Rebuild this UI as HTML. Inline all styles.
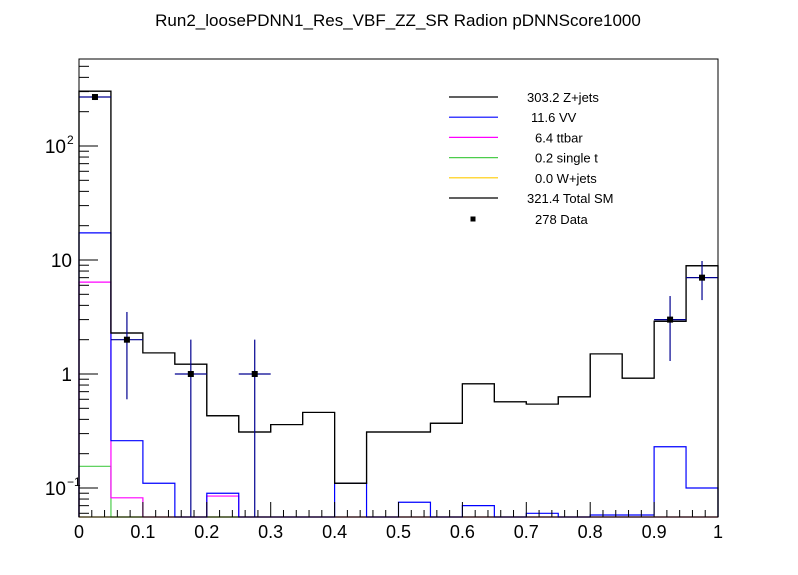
<!DOCTYPE html>
<html><head><meta charset="utf-8"><style>
html,body{margin:0;padding:0;background:#fff;}
svg{display:block;font-family:"Liberation Sans",Arial,sans-serif;}
</style></head><body>
<svg id="c" width="798" height="575" viewBox="0 0 798 575">
<rect x="0" y="0" width="798" height="575" fill="#fff"/>
<text x="398" y="26" font-size="17" text-anchor="middle">Run2_loosePDNN1_Res_VBF_ZZ_SR Radion  pDNNScore1000</text>
<g id="plot"></g>
<g id="axes"></g>
<g id="legend"></g>
</svg>
<script>
const binEdgesLow = [0,0.05,0.1,0.15,0.2,0.25,0.3,0.35,0.4,0.45,0.5,0.55,0.6,0.65,0.7,0.75,0.8,0.85,0.9,0.95];
const binWidth = 0.05;
const totalSM = [303,2.29,1.53,1.22,0.43,0.31,0.36,0.46,0.11,0.31,0.31,0.37,0.82,0.57,0.545,0.63,1.5,0.92,2.9,8.9];
const vvCumul = [17.3,0.26,0.11,0,0.09,0,0,0,0.11,0,0.075,0,0.07,0,0.06,0,0.058,0.058,0.23,0.1];
const ttbarCumul = [6.4,0.082,0,0,0.085,0,0,0,0,0,0,0,0,0,0,0,0,0,0,0];
const singleTCumul = [0.155,0,0,0,0,0,0,0,0,0,0,0,0,0,0,0,0,0,0,0];
const wjetsCumul = [0,0,0,0,0,0,0,0,0,0,0,0,0,0,0,0,0,0,0,0];
const dataX = [0.025,0.075,0.175,0.275,0.925,0.975];
const dataY = [269,2,1,1,3,7];
const dataErrUp = [16,1.5,1,1,1.83,2.8];
const dataErrLow = [16,1.4,1,1,1.7,2.55];
const yMajorTicks = [0.1,1,10,100];
const xTickLabels = ["0","0.1","0.2","0.3","0.4","0.5","0.6","0.7","0.8","0.9","1"];

const NS="http://www.w3.org/2000/svg";
const X0=79,X1=718,Y0=59,Y1=517;
function sx(v){return X0+(X1-X0)*v;}
function sy(v){ if(v<=0) return Y1; const y=374-114*Math.log10(v); return Math.max(Y0,Math.min(Y1,y)); }
function mk(tag,attrs,parent){const e=document.createElementNS(NS,tag);for(const k in attrs)e.setAttribute(k,attrs[k]);parent.appendChild(e);return e;}
const plot=document.getElementById('plot'), axes=document.getElementById('axes'), leg=document.getElementById('legend');

function hist(vals,color,name){
  let d='M'+sx(binEdgesLow[0])+','+Y1;
  vals.forEach((v,i)=>{const y=sy(v);d+=' L'+sx(binEdgesLow[i])+','+y+' L'+sx(binEdgesLow[i]+binWidth)+','+y;});
  d+=' L'+sx(binEdgesLow[vals.length-1]+binWidth)+','+Y1;
  const p=mk('path',{d:d,fill:'none',stroke:color,'stroke-width':1.2},plot);
  
  
}
hist(wjetsCumul,'#ffcc00','hist-wjets');
hist(singleTCumul,'#4ccc4c','hist-single-t');
hist(ttbarCumul,'#ff00ff','hist-ttbar');
hist(vvCumul,'#0000ff','hist-vv');
hist(totalSM,'#000','hist-zjets');
hist(totalSM,'#000','hist-total-sm');

dataX.forEach((x,i)=>{
  const g=mk('g',{},plot);
  
  
  const cx=sx(x), cy=sy(dataY[i]);
  mk('line',{x1:sx(x-binWidth/2),x2:sx(x+binWidth/2),y1:cy,y2:cy,stroke:'#000090','stroke-width':1.2},g);
  mk('line',{x1:cx,x2:cx,y1:sy(dataY[i]+dataErrUp[i]),y2:sy(dataY[i]-dataErrLow[i]),stroke:'#000090','stroke-width':1.2},g);
  mk('rect',{x:cx-3,y:cy-3,width:6,height:6,fill:'#000'},g);
});

const fr=mk('rect',{x:X0,y:Y0,width:X1-X0,height:Y1-Y0,fill:'none',stroke:'#000','stroke-width':1},axes);


for(let e=-2;e<=2;e++){
  for(let m=1;m<=9;m++){
    const v=m*Math.pow(10,e); const y=374-114*Math.log10(v);
    if(y<Y0||y>Y1) continue;
    const len=(m===1)?19:10;
    mk('line',{x1:X0,x2:X0+len,y1:y,y2:y,stroke:'#000','stroke-width':1},axes);
  }
}
const yLabelText=[['10','−1'],['1',''],['10',''],['10','2']];
yMajorTicks.forEach((v,i)=>{
  const t=mk('text',{x:(yLabelText[i][1]?66:72),y:sy(v)+7,'font-size':19,'text-anchor':'end'},axes);
  
  
  t.textContent=yLabelText[i][0];
  if(yLabelText[i][1]){
    const s=mk('text',{x:67,y:sy(v)-2,'font-size':12,'text-anchor':'start'},axes);
    s.textContent=yLabelText[i][1];
  }
});
for(let k=0;k<=50;k++){
  const x=sx(k/50); const len=(k%5===0)?15:7;
  mk('line',{x1:x,x2:x,y1:Y1,y2:Y1-len,stroke:'#000','stroke-width':1},axes);
}
xTickLabels.forEach((l,i)=>{
  const t=mk('text',{x:sx(i/10),y:538,'font-size':18,'text-anchor':'middle'},axes);
  
  
  t.textContent=l;
});
const legItems=[['#000','303.2 Z+jets',527],['#0000ff','11.6 VV',531],['#ff00ff','6.4 ttbar',535],['#4ccc4c','0.2 single t',535],['#ffcc00','0.0 W+jets',535],['#000','321.4 Total SM',527]];
legItems.forEach((it,i)=>{
  const y=97+i*20.2;
  const g=mk('g',{},leg);
  
  
  mk('line',{x1:449,x2:498,y1:y,y2:y,stroke:it[0],'stroke-width':1.2},g);
  const t=mk('text',{x:it[2],y:y+5,'font-size':13},g);
  t.textContent=it[1];
});
const gd=mk('g',{},leg);


mk('rect',{x:470.5,y:216.5,width:5,height:5,fill:'#000'},gd);
const td=mk('text',{x:535,y:224,'font-size':13},gd);
td.textContent='278 Data';
</script>
</body></html>
